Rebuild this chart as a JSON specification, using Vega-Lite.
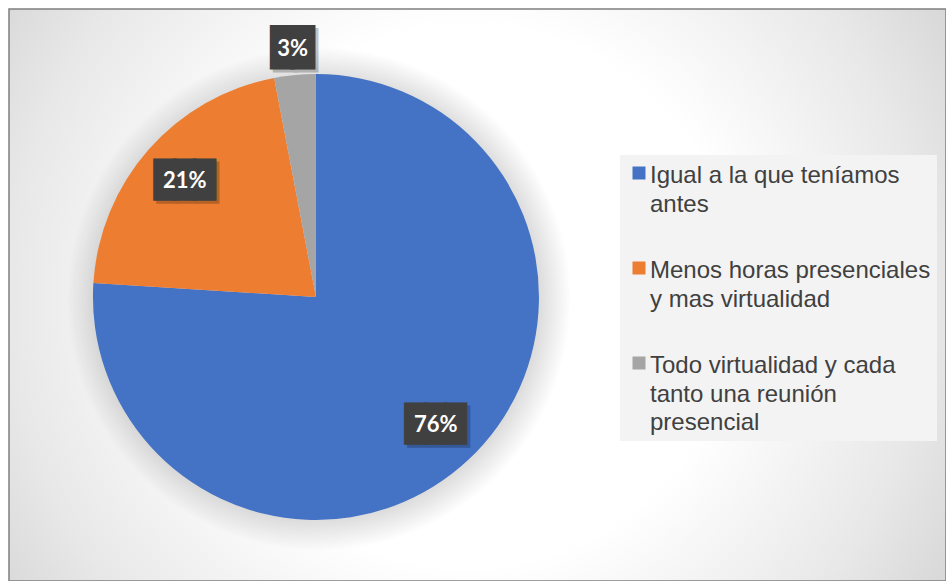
{
  "$schema": "https://vega.github.io/schema/vega-lite/v6.json",
  "width": 937,
  "height": 572,
  "autosize": {"type": "none"},
  "padding": {"left": 9, "top": 9, "right": 0, "bottom": 0},
  "background": "#ffffff",
  "config": {"view": {"stroke": null}},
  "data": {
    "values": [
      {"categoria": "Igual a la que teníamos antes", "pct": 0.76},
      {"categoria": "Menos horas presenciales y mas virtualidad", "pct": 0.21},
      {"categoria": "Todo virtualidad y cada tanto una reunión presencial", "pct": 0.03}
    ]
  },
  "layer": [
    {
      "data": {"values": [{"fondo": "marco"}]},
      "mark": {
        "type": "rect",
        "stroke": "#7f7f7f",
        "strokeWidth": 1.5,
        "fill": {
          "gradient": "radial",
          "x1": 0.49, "y1": 0.5, "x2": 0.49, "y2": 0.5, "r1": 0, "r2": 0.72,
          "stops": [
            {"offset": 0, "color": "#ffffff"},
            {"offset": 0.4, "color": "#ffffff"},
            {"offset": 0.68, "color": "#e8e8e8"},
            {"offset": 1, "color": "#c4c4c4"}
          ]
        }
      },
      "encoding": {}
    },
    {
      "data": {"values": [{"fondo": "sombra"}]},
      "mark": {
        "type": "arc",
        "outerRadius": 252,
        "x": {"expr": "width*0.3276 + 3"},
        "y": {"expr": "height*0.5035 + 2"},
        "fill": {
          "gradient": "radial",
          "x1": 0.5, "y1": 0.5, "x2": 0.5, "y2": 0.5, "r1": 0, "r2": 0.5,
          "stops": [
            {"offset": 0, "color": "rgba(0,0,0,0.14)"},
            {"offset": 0.87, "color": "rgba(0,0,0,0.14)"},
            {"offset": 1, "color": "rgba(0,0,0,0)"}
          ]
        }
      },
      "encoding": {}
    },
    {
      "mark": {"type": "arc", "outerRadius": 223, "x": {"expr": "width*0.3276"}, "y": {"expr": "height*0.5035"}},
      "encoding": {
        "theta": {"field": "pct", "type": "quantitative", "stack": true},
        "order": {"field": "categoria", "type": "ordinal", "sort": "ascending"},
        "color": {
          "field": "categoria",
          "type": "nominal",
          "scale": {"range": ["#4472c4", "#ed7d31", "#a5a5a5"]},
          "legend": {
            "orient": "none",
            "legendX": 611,
            "legendY": 146,
            "title": null,
            "fillColor": "#f3f3f3",
            "padding": 6,
            "symbolType": "square",
            "symbolSize": 169,
            "symbolStrokeWidth": 0,
            "symbolOffset": 1,
            "labelFont": "Liberation Sans",
            "labelFontSize": 24,
            "labelColor": "#404040",
            "labelLimit": 400,
            "labelOffset": -1,
            "labelBaseline": "top",
            "rowPadding": 39,
            "labelExpr": "datum.label === 'Igual a la que teníamos antes' ? ['Igual a la que teníamos', 'antes'] : datum.label === 'Menos horas presenciales y mas virtualidad' ? ['Menos horas presenciales', 'y mas virtualidad'] : ['Todo virtualidad y cada', 'tanto una reunión', 'presencial']",
            "encode": {"labels": {"update": {"lineHeight": {"value": 28.5}, "dy": {"value": -9}}}}
          }
        }
      }
    },
    {
      "mark": {"type": "text", "font": "DejaVu Sans Mono", "color": "#000000", "stroke": "#000000", "opacity": 0.22, "dx": 3, "dy": 3, "baseline": "middle", "x": {"expr": "width*0.3276"}, "y": {"expr": "height*0.5035"}},
      "encoding": {
        "theta": {"field": "pct", "type": "quantitative", "stack": true},
        "order": {"field": "categoria", "type": "ordinal", "sort": "ascending"},
        "radius": {"field": "pct", "type": "quantitative", "scale": {"type": "linear", "domain": [0.03, 0.21], "range": [249, 175], "clamp": true, "zero": false}},
        "size": {"condition": {"test": "datum.pct < 0.05", "value": 34}, "value": 33},
        "strokeWidth": {"condition": {"test": "datum.pct < 0.05", "value": 4}, "value": 3},
        "text": {"condition": {"test": "datum.pct < 0.05", "value": "██"}, "value": "███"}
      }
    },
    {
      "mark": {"type": "text", "font": "DejaVu Sans Mono", "color": "#404040", "stroke": "#404040", "baseline": "middle", "x": {"expr": "width*0.3276"}, "y": {"expr": "height*0.5035"}},
      "encoding": {
        "theta": {"field": "pct", "type": "quantitative", "stack": true},
        "order": {"field": "categoria", "type": "ordinal", "sort": "ascending"},
        "radius": {"field": "pct", "type": "quantitative", "scale": {"type": "linear", "domain": [0.03, 0.21], "range": [249, 175], "clamp": true, "zero": false}},
        "size": {"condition": {"test": "datum.pct < 0.05", "value": 34}, "value": 33},
        "strokeWidth": {"condition": {"test": "datum.pct < 0.05", "value": 4}, "value": 3},
        "text": {"condition": {"test": "datum.pct < 0.05", "value": "██"}, "value": "███"}
      }
    },
    {
      "mark": {"type": "text", "color": "#ffffff", "font": "Lato", "fontSize": 22, "fontWeight": "bold", "baseline": "middle", "x": {"expr": "width*0.3276"}, "y": {"expr": "height*0.5035"}},
      "encoding": {
        "theta": {"field": "pct", "type": "quantitative", "stack": true},
        "order": {"field": "categoria", "type": "ordinal", "sort": "ascending"},
        "radius": {"field": "pct", "type": "quantitative", "scale": {"type": "linear", "domain": [0.03, 0.21], "range": [249, 175], "clamp": true, "zero": false}},
        "text": {"field": "pct", "type": "quantitative", "format": ".0%"}
      }
    }
  ]
}
